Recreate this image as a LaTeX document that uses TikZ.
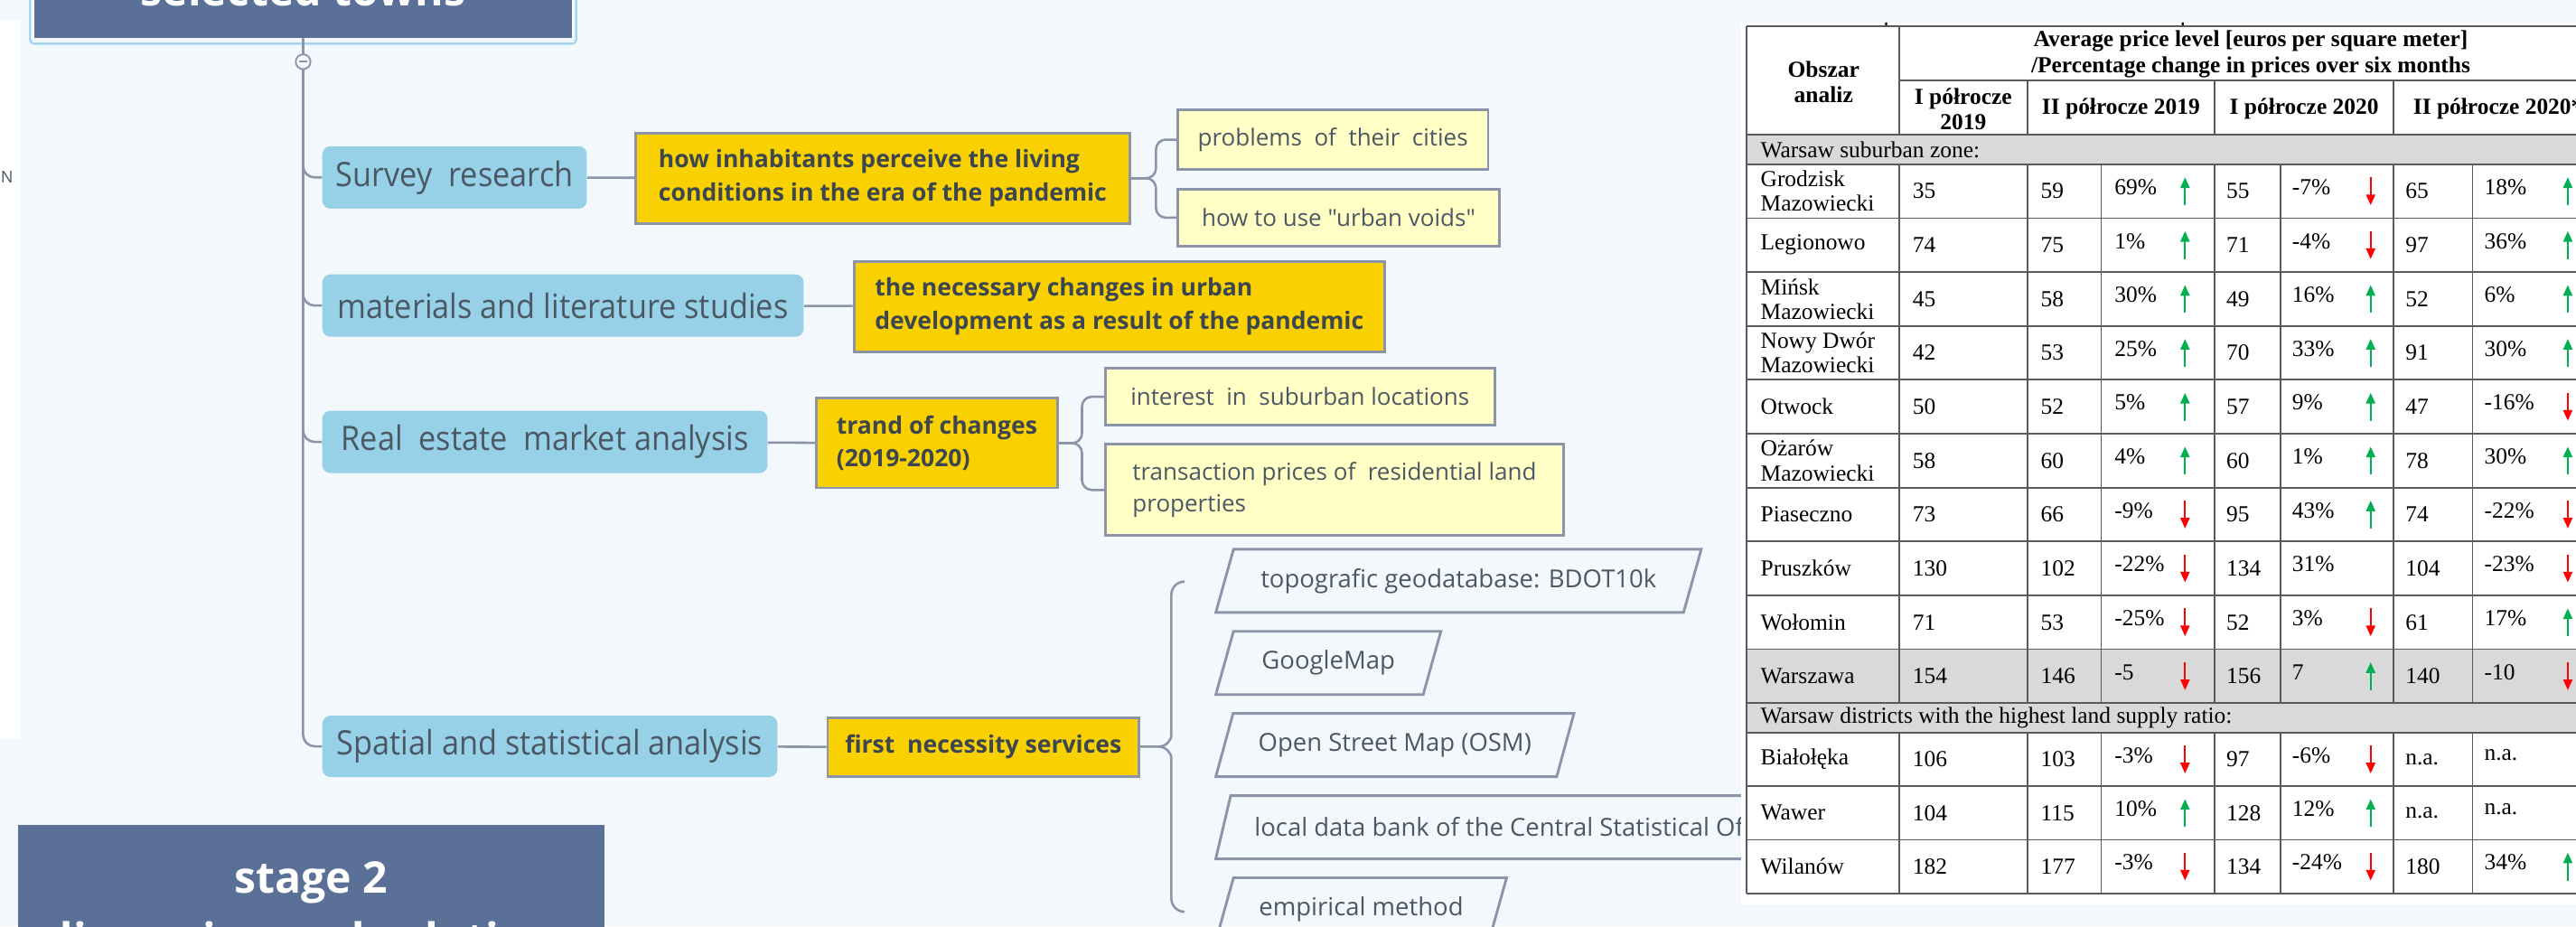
\documentclass[tikz,border=0pt]{standalone}
\usepackage{fontspec}
\setmainfont{Liberation Serif}
\newfontfamily\mapfont[FakeStretch=0.92]{Open Sans}
\newfontfamily\notefont{Open Sans}
\usetikzlibrary{positioning, arrows.meta, shapes.geometric}

\definecolor{canvas}{HTML}{F3F8FD}
\definecolor{slate}{HTML}{5B7097}
\definecolor{selring}{HTML}{A3D6F3}
\definecolor{skyfill}{HTML}{97D1E7}
\definecolor{goldfill}{HTML}{F9D100}
\definecolor{creamfill}{HTML}{FFFFC6}
\definecolor{linegray}{HTML}{8B94A8}
\definecolor{inkgray}{HTML}{4C5764}
\definecolor{inkdark}{HTML}{3C4650}
\definecolor{gridgray}{HTML}{5A5A5A}
\definecolor{cellgray}{HTML}{D9D9D9}
\definecolor{upgreen}{HTML}{00B050}
\definecolor{downred}{HTML}{FF0000}

\tikzset{
  stagebox/.style={fill=slate, inner sep=0pt},
  stagetxt/.style={font=\notefont\bfseries\fontsize{26.5}{32}\selectfont, text=white, inner sep=0pt},
  methodbox/.style={fill=skyfill, rounded corners=5pt, minimum height=38pt, inner xsep=6pt,
                    anchor=west, font=\mapfont\fontsize{20.5}{24}\selectfont, text=inkgray},
  aimbox/.style={draw=linegray, line width=1.6pt, fill=goldfill, inner xsep=8pt, anchor=west,
                 align=left, font=\notefont\bfseries\fontsize{14.6}{20.2}\selectfont, text=inkdark},
  topicbox/.style={draw=linegray, line width=1.6pt, fill=creamfill, inner xsep=8pt, anchor=west,
                   align=left, font=\notefont\fontsize{14.3}{19}\selectfont, text=inkgray},
  srcbox/.style={trapezium, trapezium left angle=63.7, trapezium right angle=116.3,
                 trapezium stretches body, draw=linegray, line width=1.6pt, minimum height=38.5pt,
                 anchor=bottom left corner, font=\notefont\fontsize{15.1}{18}\selectfont, text=inkgray},
  conn/.style={draw=linegray, line width=1.4pt},
  tcell/.style={font=\fontsize{14}{15}\selectfont, inner sep=0pt, align=left, anchor=west},
  hcell/.style={font=\bfseries\fontsize{14}{15.5}\selectfont, inner sep=0pt, align=center},
  tabline/.style={draw=gridgray, line width=1pt},
  tu/.style={draw=upgreen, line width=1.2pt, -{Triangle[length=6.5pt, width=5.5pt]}},
  td/.style={draw=downred, line width=1.2pt, {Triangle[length=6.5pt, width=5.5pt]}-},
  tn/.style={draw=none},
}

\begin{document}
\begin{tikzpicture}[x=1pt, y=-1pt]
  \useasboundingbox (0,0) rectangle (1568,564);
  \fill[canvas] (0,0) rectangle (1568,564);
  \fill[white] (0,12) rectangle (12.7,450);
  \node[font=\notefont\fontsize{10}{10}\selectfont, text=inkgray, anchor=west] (edgeN) at (-3,108) {N};

  % stage boxes
  \draw[selring, line width=1.3pt, rounded corners=2.5pt] (18.3,-60) rectangle (350.7,26.6);
  \node[stagebox, minimum width=327.6pt, minimum height=80pt, anchor=south] (topbox) at (184.5,23.5) {};
  \node[stagetxt, anchor=base] (toptxt) at (184.5,3.7) {selected towns};
  \node[stagebox, minimum width=357pt, minimum height=100pt, anchor=north west] (stage2) at (11,502) {};
  \node[stagetxt, anchor=base] (stage2a) at (189.5,543.5) {stage 2};
  \node[stagetxt, anchor=base] (stage2b) at (189.5,581) {discussion and solutions};

  % methods
  \node[methodbox, minimum width=161pt] (survey) at (196,108) {Survey~~research};
  \node[methodbox, minimum width=293pt] (studies) at (196,186) {materials and literature studies};
  \node[methodbox, minimum width=271pt] (market) at (196,269) {Real~~estate~~market analysis};
  \node[methodbox, minimum width=277pt, minimum height=37.4pt] (spatial) at (196,454.3) {Spatial and statistical analysis};

  % aims
  \node[aimbox, minimum width=301pt, minimum height=55pt] (perceive) at (386,108.5)
       {how inhabitants perceive the living\\conditions in the era of the pandemic};
  \node[aimbox, minimum width=323pt, minimum height=55pt] (changes) at (519,186.5)
       {the necessary changes in urban\\development as a result of the pandemic};
  \node[aimbox, minimum width=147pt, minimum height=54.5pt] (trend) at (496,269.75) {trand of changes\\(2019-2020)};
  \node[aimbox, minimum width=189.5pt, minimum height=35.5pt] (services) at (503,454.75) {first~~necessity services};

  % topics
  \node[topicbox, minimum width=189pt, minimum height=36pt] (problems) at (716,85) {problems~~of~~their~~cities};
  \node[topicbox, minimum width=196pt, minimum height=35pt] (voids) at (716,132.5) {how to use "urban voids"};
  \node[topicbox, minimum width=237pt, minimum height=35pt] (interest) at (672,241.5) {interest~~in~~suburban locations};
  \node[topicbox, minimum width=279pt, minimum height=55.5pt] (prices) at (672,298.25)
       {transaction prices of~~residential land\\properties};

  % data sources
  \node[srcbox, minimum width=295.5pt] (bdot) at (739,373.6) {topografic geodatabase: BDOT10k};
  \node[srcbox, minimum width=137pt] (gmap) at (739,423.6) {GoogleMap};
  \node[srcbox, minimum width=218pt] (osm) at (739,473.6) {Open Street Map (OSM)};
  \node[srcbox, minimum width=345pt] (gus) at (739,523.6) {local data bank of the Central Statistical Of};
  \node[srcbox, minimum width=177pt] (empir) at (739,573.6) {empirical method};

  % connectors
  \foreach \m in {survey,studies,market,spatial}
    \draw[conn, rounded corners=7pt] (topbox.south) |- (\m.west);
  \node[circle, draw=linegray, fill=canvas, line width=1pt, minimum size=9pt, inner sep=0pt] (fold) at (184.5,37.6) {};
  \draw[linegray, line width=1pt] ([xshift=-2.5pt]fold.center) -- ([xshift=2.5pt]fold.center);
  \draw[conn] (survey) -- (perceive);
  \draw[conn] (studies) -- (changes);
  \draw[conn] (market) -- (trend);
  \draw[conn] (spatial) -- (services);
  \draw[conn, rounded corners=6pt] (perceive.east) -- ++(15,0) |- (problems.west);
  \draw[conn, rounded corners=6pt] (perceive.east) -- ++(15,0) |- (voids.west);
  \draw[conn, rounded corners=6pt] (trend.east) -- ++(14,0) |- (interest.west);
  \draw[conn, rounded corners=6pt] (trend.east) -- ++(14,0) |- (prices.west);
  \coordinate (bracetip) at (705,454.5);
  \draw[conn] (services) -- (bracetip);
  \draw[conn] (721,354) to[out=180,in=90] (713,362) -- (713,447) to[out=-90,in=0] (bracetip)
        to[out=0,in=90] (713,462) -- (713,547) to[out=-90,in=180] (721,555);

  % table
  \fill[white] (1060,13.7) rectangle (1600,550.6);
  \fill[black] (1147.5,13.7) rectangle ++(1.2,1.6) (1328,13.7) rectangle ++(1.2,1.6);
  \fill[cellgray] (1063,82) rectangle (1600,100);
  \fill[cellgray] (1063,395.2) rectangle (1600,446);
  \foreach \yy in {16,82,100,132.8,165.6,198.4,231.2,264,296.8,329.6,362.4,395.2,428,446,478.6,511.2,543.8}
    \draw[tabline] (1063,\yy) -- (1600,\yy);
  \draw[tabline] (1156,49) -- (1600,49);
  \draw[tabline] (1063,16) -- (1063,543.8);
  \draw[tabline] (1156,16) -- (1156,82);
  \foreach \xx in {1234,1348,1457} \draw[tabline] (\xx,49) -- (\xx,82);
  \foreach \xx in {1156,1234,1279,1348,1388,1457,1505}
    \draw[tabline] (\xx,100) -- (\xx,428) (\xx,446) -- (\xx,543.8);

  \node[hcell] (areahead) at (1110,50) {Obszar\\analiz};
  \node[hcell] (pricehead) at (1370,33) {Average price level [euros per square meter]\\/Percentage change in prices over six months};
  \node[hcell] (h19a) at (1195,66.4) {I półrocze\\2019};
  \node[hcell] (h19b) at (1291,66) {II półrocze 2019};
  \node[hcell] (h20a) at (1402.5,66) {I półrocze 2020};
  \node[hcell, anchor=west] (h20b) at (1468.7,66) {II półrocze 2020*};
  \node[tcell] (zone1) at (1071.5,91) {Warsaw suburban zone:};
  \node[tcell] (zone2) at (1071.5,437) {Warsaw districts with the highest land supply ratio:};

  \foreach \yc/\nm/\va/\vb/\pb/\ab/\vc/\pc/\ac/\vd/\pd/\ad [count=\r] in {
      116.4/{Grodzisk\\Mazowiecki}/35/59/{69\%}/tu/55/{-7\%}/td/65/{18\%}/tu,
      149.2/Legionowo/74/75/{1\%}/tu/71/{-4\%}/td/97/{36\%}/tu,
      182/{Mińsk\\Mazowiecki}/45/58/{30\%}/tu/49/{16\%}/tu/52/{6\%}/tu,
      214.8/{Nowy Dwór\\Mazowiecki}/42/53/{25\%}/tu/70/{33\%}/tu/91/{30\%}/tu,
      247.6/Otwock/50/52/{5\%}/tu/57/{9\%}/tu/47/{-16\%}/td,
      280.4/{Ożarów\\Mazowiecki}/58/60/{4\%}/tu/60/{1\%}/tu/78/{30\%}/tu,
      313.2/Piaseczno/73/66/{-9\%}/td/95/{43\%}/tu/74/{-22\%}/td,
      346/Pruszków/130/102/{-22\%}/td/134/{31\%}/tn/104/{-23\%}/td,
      378.8/Wołomin/71/53/{-25\%}/td/52/{3\%}/td/61/{17\%}/tu,
      411.6/Warszawa/154/146/-5/td/156/7/tu/140/-10/td,
      462.3/Białołęka/106/103/{-3\%}/td/97/{-6\%}/td/n.a./n.a./tn,
      494.9/Wawer/104/115/{10\%}/tu/128/{12\%}/tu/n.a./n.a./tn,
      527.5/Wilanów/182/177/{-3\%}/td/134/{-24\%}/td/180/{34\%}/tu} {
    \node[tcell] (town\r) at (1071.5,\yc) {\nm};
    \node[tcell] (pa\r) at (1164,\yc) {\va};
    \node[tcell] (pb\r) at (1242,\yc) {\vb};
    \node[tcell] (qb\r) at (1287,\yc-2.5) {\pb};
    \draw[\ab] (1330,\yc+8.5) -- (1330,\yc-8.5);
    \node[tcell] (pc\r) at (1355,\yc) {\vc};
    \node[tcell] (qc\r) at (1395,\yc-2.5) {\pc};
    \draw[\ac] (1443,\yc+8.5) -- (1443,\yc-8.5);
    \node[tcell] (pd\r) at (1464,\yc) {\vd};
    \node[tcell] (qd\r) at (1512,\yc-2.5) {\pd};
    \draw[\ad] (1563,\yc+8.5) -- (1563,\yc-8.5);
  }
\end{tikzpicture}
\end{document}
